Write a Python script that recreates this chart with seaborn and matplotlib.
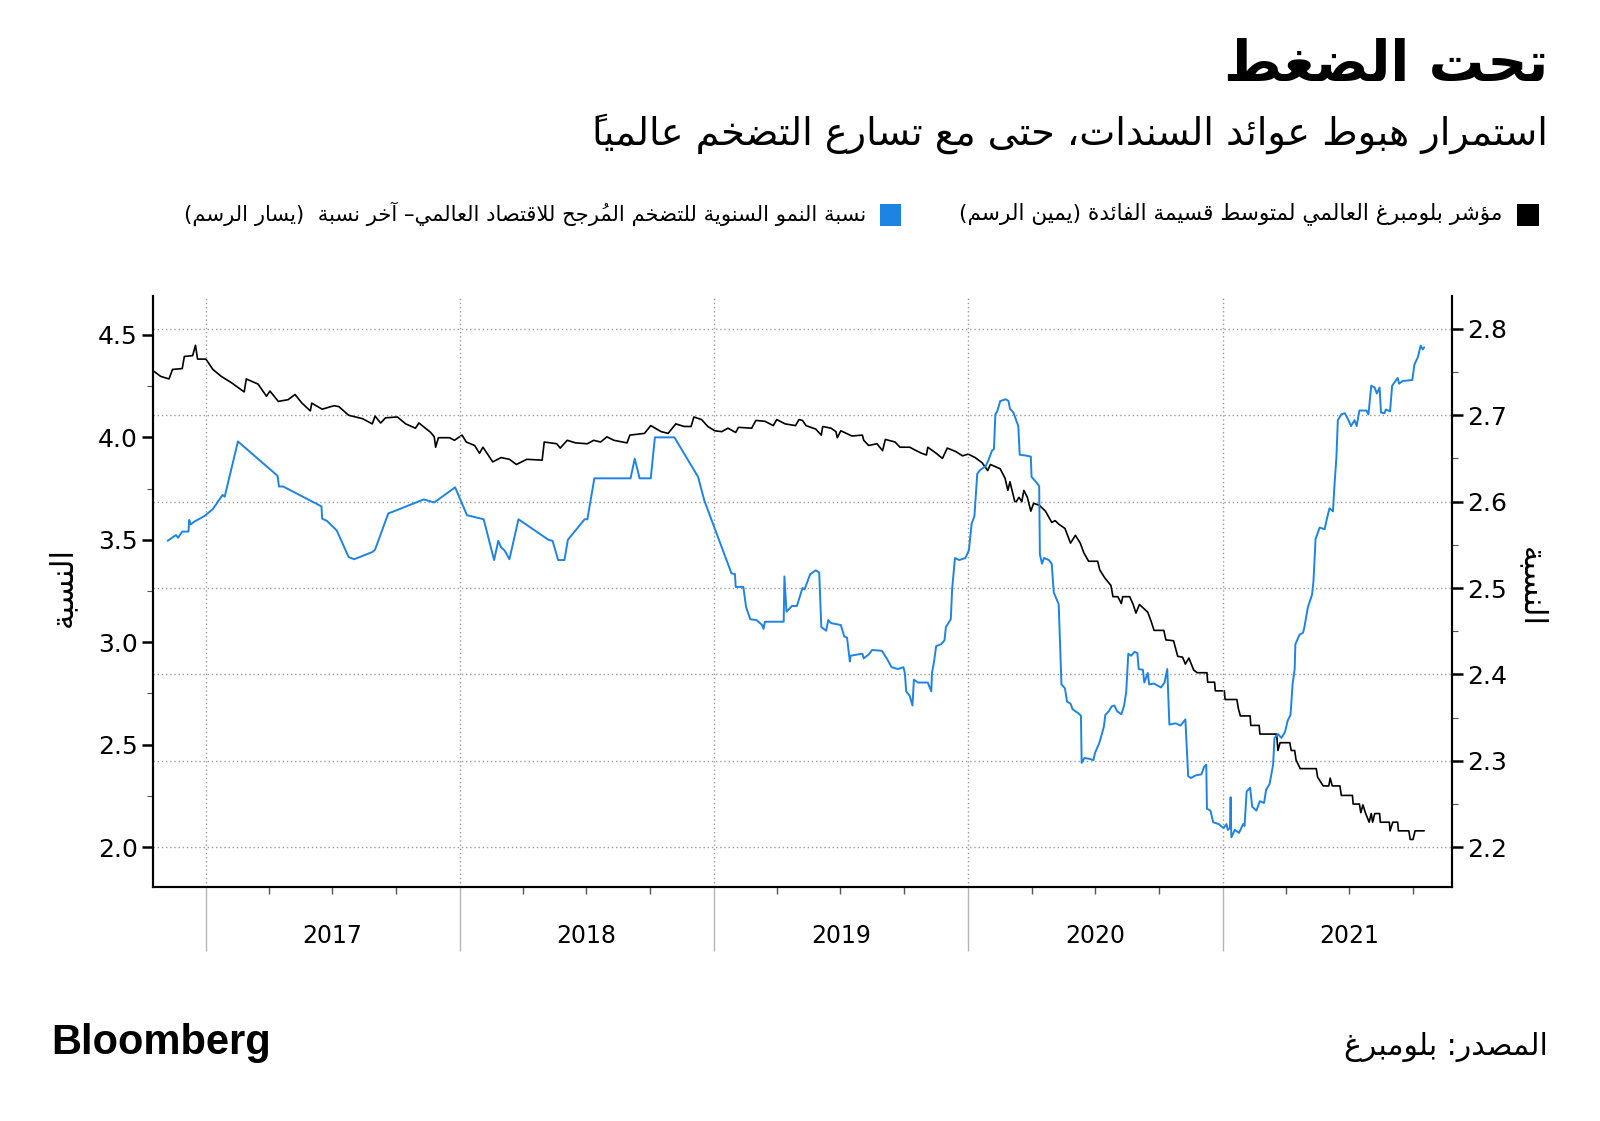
import numpy as np
import pandas as pd
import matplotlib
matplotlib.use("Agg")
import matplotlib.pyplot as plt
import matplotlib.dates as mdates
from matplotlib.patches import Rectangle
from matplotlib.ticker import MultipleLocator, FormatStrFormatter
import seaborn as sns

# ---------------- data ----------------
# day offsets are counted from 2017-01-01
ORIGIN = "2017-01-01"

index_days = [-75, -65, -53, -48, -34, -31, -19, -15, -12, 0, 10, 22, 36, 55, 58, 75, 87, 92, 104, 118,
              128, 138, 150, 152, 167, 184, 191, 205, 225, 239,
              243, 251, 258, 275, 287, 301, 306, 323, 328, 330, 334, 350, 357, 368, 374, 386, 393, 398, 412, 424,
              436, 446, 461, 483, 486, 504, 509, 519, 531, 548,
              557, 567, 576, 586, 605, 609, 630, 639, 654, 664, 675, 687, 697, 701, 712, 721, 731, 741, 750, 761,
              765, 784, 790, 803, 815, 820, 832, 847, 852, 857,
              862, 876, 884, 886, 898, 905, 907, 912, 928, 943, 945, 952, 964, 972, 976, 990, 997, 1011, 1018, 1028,
              1035, 1037, 1049, 1058, 1065, 1077, 1087, 1095, 1105, 1115, 1123, 1127, 1141, 1148, 1152, 1155, 1162,
              1164, 1168, 1172, 1175, 1180, 1185, 1189, 1197, 1206, 1215, 1220, 1225, 1234, 1242, 1249, 1256, 1261,
              1268, 1281, 1284, 1291, 1300, 1303, 1310, 1315, 1317, 1327, 1332, 1336, 1341, 1353, 1358, 1362, 1376,
              1379, 1390, 1396, 1403, 1407, 1412, 1419, 1424, 1438, 1439, 1449, 1450, 1463, 1464,
              1481, 1483, 1486, 1500, 1501, 1513, 1514, 1538, 1540, 1543, 1557, 1559, 1564, 1566, 1572, 1595, 1597,
              1605, 1613, 1615, 1618, 1629, 1631, 1647, 1648, 1657, 1659, 1662, 1666, 1671, 1674, 1676, 1679, 1686,
              1687, 1700, 1701, 1705, 1712, 1713, 1728, 1730, 1734, 1737, 1750]
index_vals = [2.751, 2.745, 2.742, 2.753, 2.754, 2.768, 2.769, 2.781, 2.765, 2.765, 2.753, 2.745, 2.738, 2.727,
              2.742, 2.736, 2.722, 2.728, 2.716, 2.718, 2.724, 2.714, 2.705, 2.714, 2.707, 2.711, 2.710, 2.700,
              2.696, 2.690,
              2.699, 2.691, 2.697, 2.698, 2.690, 2.685, 2.691, 2.680, 2.675, 2.663, 2.674, 2.674, 2.671, 2.677,
              2.669, 2.665, 2.656, 2.663, 2.646, 2.651, 2.649, 2.643, 2.649, 2.648, 2.669, 2.667, 2.662, 2.671,
              2.668, 2.667,
              2.671, 2.669, 2.675, 2.671, 2.668, 2.677, 2.679, 2.688, 2.681, 2.679, 2.690, 2.687, 2.687, 2.698,
              2.695, 2.687, 2.682, 2.681, 2.685, 2.680, 2.686, 2.685, 2.694, 2.693, 2.688, 2.695, 2.690, 2.688,
              2.695, 2.694,
              2.688, 2.684, 2.677, 2.687, 2.685, 2.681, 2.674, 2.682, 2.676, 2.677, 2.671, 2.665, 2.667, 2.659,
              2.672, 2.669, 2.663, 2.663, 2.660, 2.656, 2.654, 2.663, 2.656, 2.650, 2.662, 2.658, 2.653, 2.655,
              2.651, 2.645, 2.636, 2.643, 2.638, 2.627, 2.613, 2.623, 2.600,
              2.600, 2.605, 2.600, 2.613, 2.605, 2.589, 2.598, 2.596, 2.589, 2.576, 2.578, 2.574, 2.569, 2.552,
              2.561, 2.552, 2.541, 2.531, 2.531, 2.521, 2.512, 2.503, 2.490, 2.490, 2.482, 2.490, 2.490, 2.481,
              2.471, 2.481, 2.472, 2.461, 2.451, 2.451, 2.440, 2.439, 2.421, 2.420, 2.412, 2.419, 2.405, 2.402,
              2.402, 2.391, 2.391, 2.381, 2.381, 2.371,
              2.371, 2.361, 2.352, 2.352, 2.341, 2.341, 2.331, 2.331, 2.312, 2.321, 2.321, 2.312, 2.312, 2.301,
              2.291, 2.291, 2.281, 2.271, 2.271, 2.280, 2.271, 2.271, 2.260, 2.260, 2.250, 2.250, 2.240, 2.249,
              2.239, 2.229, 2.239, 2.229, 2.239, 2.239, 2.229, 2.229, 2.219, 2.229, 2.229, 2.219, 2.219, 2.209,
              2.209, 2.219, 2.219]

inflation_days = [-55, -43, -40, -34, -25, -24, -22, -17, -2, 10, 24, 27, 46, 103, 105, 111, 166, 167, 174, 188,
                  205, 213, 239,
                  243, 262, 267, 313, 328, 358, 375, 399, 414, 420, 424, 429, 436, 449, 492, 498, 506, 515, 520,
                  544, 548,
                  558, 610, 616, 623, 639, 645, 673, 707, 716, 755, 760, 761, 772, 776, 782, 791, 799, 801, 803,
                  830, 831, 834, 842, 849, 857,
                  860, 868, 876, 881, 884, 891, 894, 898, 912, 917, 921, 925, 926, 943, 945, 952, 957, 971, 978,
                  985, 994, 1002, 1004, 1006, 1011, 1015, 1017, 1023, 1037, 1042, 1043, 1046, 1049, 1056, 1061,
                  1063, 1070, 1072, 1076, 1082, 1091, 1096, 1100, 1104, 1108, 1112, 1120, 1124, 1129, 1132, 1134,
                  1137, 1141, 1149, 1153, 1155, 1160,
                  1167, 1169, 1178, 1185, 1186, 1192, 1197, 1198, 1201, 1204, 1211, 1215, 1218, 1223, 1225, 1229,
                  1234, 1237, 1242, 1245, 1249, 1253, 1257, 1258, 1262, 1270, 1275, 1277, 1283, 1287, 1290, 1292,
                  1297, 1301, 1305, 1309, 1315, 1319, 1322, 1325, 1329, 1334, 1338, 1340, 1346, 1348, 1353, 1355,
                  1362, 1372, 1377, 1381, 1384, 1393, 1400, 1407, 1411, 1415, 1422, 1430, 1434, 1437, 1438, 1443,
                  1447, 1455, 1458, 1462, 1466, 1468,
                  1471, 1472, 1473, 1478, 1484, 1490, 1492, 1495, 1500, 1503, 1509, 1514, 1520, 1523, 1528, 1533,
                  1535, 1540, 1545, 1550, 1554, 1558, 1561, 1564, 1565, 1571, 1576, 1578, 1583, 1589, 1591, 1594,
                  1600, 1607, 1610, 1614, 1619, 1621, 1624, 1626, 1631, 1636, 1640, 1645, 1650, 1653, 1657, 1667,
                  1670, 1674, 1679, 1682, 1686, 1688, 1693, 1695, 1701, 1704, 1712, 1714, 1719, 1733, 1736, 1741,
                  1745, 1748, 1750]
inflation_vals = [3.495, 3.523, 3.510, 3.540, 3.540, 3.597, 3.575, 3.588, 3.616, 3.650, 3.719, 3.710, 3.980,
                  3.812, 3.760, 3.760, 3.663, 3.603, 3.592, 3.545, 3.416, 3.405, 3.440,
                  3.452, 3.629, 3.635, 3.697, 3.682, 3.756, 3.620, 3.600, 3.401, 3.495, 3.463, 3.448, 3.405,
                  3.600, 3.500, 3.495, 3.401, 3.401, 3.500, 3.600, 3.600,
                  3.800, 3.800, 3.896, 3.800, 3.800, 4.000, 4.000, 3.807, 3.691, 3.336, 3.332, 3.270, 3.270,
                  3.171, 3.112, 3.108, 3.084, 3.065, 3.100, 3.100, 3.321, 3.149, 3.177, 3.177, 3.265,
                  3.258, 3.332, 3.351, 3.340, 3.074, 3.056, 3.108, 3.093, 3.084, 3.028, 3.022, 2.906, 2.934,
                  2.944, 2.921, 2.940, 2.962, 2.958, 2.921, 2.878, 2.869, 2.878, 2.850, 2.760, 2.738, 2.691,
                  2.817, 2.803, 2.803, 2.760, 2.850, 2.906, 2.981, 2.990, 3.009, 3.074, 3.112, 3.261, 3.411,
                  3.401, 3.411, 3.448, 3.579, 3.616, 3.822, 3.840, 3.859, 3.887, 3.934, 3.943, 4.111, 4.130,
                  4.177, 4.186, 4.177, 4.140, 4.121,
                  4.055, 3.915, 3.911, 3.906, 3.807, 3.784, 3.762, 3.429, 3.383, 3.411, 3.401, 3.383, 3.242,
                  3.201, 3.186, 2.794, 2.775, 2.710, 2.700, 2.673, 2.663, 2.654, 2.641, 2.411, 2.435, 2.430,
                  2.424, 2.458, 2.505, 2.551, 2.589, 2.645, 2.663, 2.686, 2.691, 2.663, 2.648, 2.691, 2.757,
                  2.944, 2.934, 2.953, 2.947, 2.869, 2.865, 2.803, 2.850, 2.794, 2.798, 2.779, 2.803, 2.869,
                  2.598, 2.604, 2.593, 2.623, 2.346, 2.337, 2.350, 2.355, 2.393, 2.402, 2.187, 2.178, 2.121,
                  2.112, 2.103, 2.093, 2.112, 2.084,
                  2.093, 2.243, 2.047, 2.084, 2.069, 2.112, 2.103, 2.271, 2.290, 2.197, 2.178, 2.224, 2.215,
                  2.280, 2.308, 2.402, 2.533, 2.551, 2.533, 2.561, 2.617, 2.645, 2.794, 2.869, 2.990, 3.037,
                  3.046, 3.074, 3.171, 3.233, 3.298, 3.504, 3.560, 3.551, 3.598, 3.654, 3.639, 3.756, 3.906,
                  4.084, 4.112, 4.118, 4.093, 4.055, 4.084, 4.055, 4.131, 4.131, 4.112, 4.252, 4.243, 4.214,
                  4.243, 4.121, 4.118, 4.136, 4.127, 4.252, 4.290, 4.262, 4.275, 4.280, 4.355, 4.392, 4.448,
                  4.429, 4.439]

years = [2017, 2018, 2019, 2020, 2021]
left_ticks = [2.0, 2.5, 3.0, 3.5, 4.0, 4.5]
right_ticks = [2.2, 2.3, 2.4, 2.5, 2.6, 2.7, 2.8]

title_text = "تحت الضغط"
subtitle_text = "استمرار هبوط عوائد السندات، حتى مع تسارع التضخم عالمياً"
legend_black = "مؤشر بلومبرغ العالمي لمتوسط قسيمة الفائدة (يمين الرسم)"
legend_blue = "نسبة النمو السنوية للتضخم المُرجح للاقتصاد العالمي– آخر نسبة  (يسار الرسم)"
ylabel_text = "النسبة"
source_text = "المصدر: بلومبرغ"

# ---------------- minimal Arabic shaping (presentation forms + RTL order) ----------------
DUAL = {0x0626: 0xFE89, 0x0628: 0xFE8F, 0x062A: 0xFE95, 0x062B: 0xFE99, 0x062C: 0xFE9D, 0x062D: 0xFEA1,
        0x062E: 0xFEA5, 0x0633: 0xFEB1, 0x0634: 0xFEB5, 0x0635: 0xFEB9, 0x0636: 0xFEBD, 0x0637: 0xFEC1,
        0x0638: 0xFEC5, 0x0639: 0xFEC9, 0x063A: 0xFECD, 0x0641: 0xFED1, 0x0642: 0xFED5, 0x0643: 0xFED9,
        0x0644: 0xFEDD, 0x0645: 0xFEE1, 0x0646: 0xFEE5, 0x0647: 0xFEE9, 0x064A: 0xFEF1}
RIGHT = {0x0622: 0xFE81, 0x0623: 0xFE83, 0x0624: 0xFE85, 0x0625: 0xFE87, 0x0627: 0xFE8D, 0x0629: 0xFE93,
         0x062F: 0xFEA9, 0x0630: 0xFEAB, 0x0631: 0xFEAD, 0x0632: 0xFEAF, 0x0648: 0xFEED, 0x0649: 0xFEEF}
LAMALEF = {0x0622: 0xFEF5, 0x0623: 0xFEF7, 0x0625: 0xFEF9, 0x0627: 0xFEFB}
MIRROR = {'(': ')', ')': '(', '[': ']', ']': '['}


def is_mark(ch):
    return 0x064B <= ord(ch) <= 0x0652


def shape(s):
    toks = []
    i = 0
    while i < len(s):
        c = s[i]
        o = ord(c)
        if is_mark(c):
            if toks:
                toks[-1][1] += c
            i += 1
            continue
        if o == 0x0644:
            j = i + 1
            marks = ''
            while j < len(s) and is_mark(s[j]):
                marks += s[j]
                j += 1
            if j < len(s) and ord(s[j]) in LAMALEF:
                toks.append(['LA', marks, 'R', LAMALEF[ord(s[j])]])
                i = j + 1
                continue
        if o in DUAL:
            toks.append([c, '', 'D', DUAL[o]])
        elif o in RIGHT:
            toks.append([c, '', 'R', RIGHT[o]])
        elif o == 0x0621:
            toks.append([c, '', 'U', 0xFE80])
        elif o == 0x0640:
            toks.append([c, '', 'T', None])
        else:
            toks.append([c, '', 'U', None])
        i += 1
    out = []
    n = len(toks)
    for k, (c, marks, jt, base) in enumerate(toks):
        if base is None:
            g = c
        else:
            prev_j = k > 0 and toks[k - 1][2] in ('D', 'T')
            next_j = k < n - 1 and toks[k + 1][2] in ('D', 'R', 'T')
            jp = prev_j and jt in ('D', 'R')
            jn = next_j and jt == 'D'
            if jt == 'D':
                g = chr(base + (3 if (jp and jn) else 1 if jp else 2 if jn else 0))
            elif jt == 'R':
                g = chr(base + (1 if jp else 0))
            else:
                g = chr(base)
        g = MIRROR.get(g, g)
        # zero-advance marks are placed before their base in visual (left-to-right) order
        out.append(g + marks)
    vis = []
    for item in reversed(out):
        base_g, mk = item[0], item[1:]
        vis.append(mk + base_g)
    return ''.join(vis)


# ---------------- figure ----------------
sns.set_theme(style="white")
plt.rcParams['font.family'] = ['DejaVu Sans']

BLUE = "#1e84e4"
W, H = 1600, 1121
fig = plt.figure(figsize=(W / 100, H / 100), dpi=100)
fig.patch.set_facecolor("white")

ax_l, ax_r, ax_t, ax_b = 153, 1452, 296, 887
ax = fig.add_axes([ax_l / W, 1 - ax_b / H, (ax_r - ax_l) / W, (ax_b - ax_t) / H])
ax2 = ax.twinx()

origin = pd.Timestamp(ORIGIN)
df_idx = pd.DataFrame({"date": origin + pd.to_timedelta(index_days, unit="D"), "value": index_vals})
df_inf = pd.DataFrame({"date": origin + pd.to_timedelta(inflation_days, unit="D"), "value": inflation_vals})

sns.lineplot(data=df_idx, x="date", y="value", ax=ax2, color="black", linewidth=1.2,
             sort=False, estimator=None)
sns.lineplot(data=df_inf, x="date", y="value", ax=ax, color=BLUE, linewidth=1.4,
             sort=False, estimator=None)

# blue axes on top, transparent background
ax.set_zorder(ax2.get_zorder() + 1)
ax.patch.set_visible(False)

ax.set_xlim(pd.Timestamp("2016-10-17"), pd.Timestamp("2021-11-26"))
ax.set_ylim(1.805, 4.69)
ax2.set_ylim(2.154, 2.838)

for a in (ax, ax2):
    a.set_xlabel("")
    a.set_ylabel("")

# y ticks
ax.set_yticks(left_ticks)
ax.yaxis.set_minor_locator(MultipleLocator(0.25))
ax.yaxis.set_major_formatter(FormatStrFormatter("%.1f"))
ax2.set_yticks(right_ticks)
ax2.yaxis.set_minor_locator(MultipleLocator(0.05))
ax2.yaxis.set_major_formatter(FormatStrFormatter("%.1f"))

ax.tick_params(axis="y", which="both", left=True, right=False)
ax2.tick_params(axis="y", which="both", right=True, left=False)
ax.tick_params(axis="y", which="major", direction="out", length=8, width=1.8, color="black",
               labelsize=18, pad=3, labelcolor="black")
ax.tick_params(axis="y", which="minor", direction="out", length=4, width=0.8, color="#555555")
ax2.tick_params(axis="y", which="major", direction="out", length=8, width=1.8, color="black",
                labelsize=18, pad=3, labelcolor="black")
ax2.tick_params(axis="y", which="minor", direction="out", length=4, width=0.8, color="#555555")

# x ticks: year separators + quarter ticks
ax.xaxis.set_major_locator(mdates.YearLocator())
ax.xaxis.set_minor_locator(mdates.MonthLocator(bymonth=[4, 7, 10]))
ax.xaxis.set_major_formatter(plt.NullFormatter())
ax.tick_params(axis="x", which="both", bottom=True, top=False)
ax.tick_params(axis="x", which="major", direction="out", length=46, width=1.0, color="#b5b5b5")
ax.tick_params(axis="x", which="minor", direction="out", length=5, width=1.0, color="#555555")
ax2.tick_params(axis="x", which="both", bottom=False, top=False, labelbottom=False)

# grid
ax.grid(axis="x", which="major", linestyle=(0, (1, 2)), color="#9a9a9a", linewidth=1.0)
ax.grid(axis="y", visible=False)
ax2.grid(axis="y", which="major", linestyle=(0, (1, 2)), color="#9a9a9a", linewidth=1.0)
ax2.grid(axis="x", visible=False)

for a in (ax, ax2):
    a.spines["top"].set_visible(False)
    for side in ("left", "right", "bottom"):
        a.spines[side].set_color("black")
        a.spines[side].set_linewidth(1.5)

# year labels centred in each year
for y in years:
    mid = pd.Timestamp(f"{y}-07-02")
    ax.text(mid, -0.083, str(y), transform=ax.get_xaxis_transform(), ha="center", va="center",
            fontsize=17, color="black")

# axis titles
fig.text(63 / W, 1 - 587 / H, shape(ylabel_text), rotation=90, ha="center", va="center",
         fontsize=22, color="black")
fig.text(1531 / W, 1 - 587 / H, shape(ylabel_text), rotation=270, ha="center", va="center",
         fontsize=22, color="black")

# title & subtitle
fig.text(1548 / W, 1 - 66 / H, shape(title_text), ha="right", va="center", fontsize=40,
         fontweight="bold", color="black")
fig.text(1548 / W, 1 - 134 / H, shape(subtitle_text), ha="right", va="center", fontsize=27.5,
         color="black")

# legend (right-to-left)
fig.patches.append(Rectangle((1517 / W, 1 - 226 / H), 22 / W, 22 / H, transform=fig.transFigure,
                             facecolor="black", edgecolor="none"))
fig.text(1502 / W, 1 - 214 / H, shape(legend_black), ha="right", va="center", fontsize=15.6, color="black")
fig.patches.append(Rectangle((880 / W, 1 - 226 / H), 21 / W, 22 / H, transform=fig.transFigure,
                             facecolor=BLUE, edgecolor="none"))
fig.text(866 / W, 1 - 214 / H, shape(legend_blue), ha="right", va="center", fontsize=15.2, color="black")

# footer
fig.text(51 / W, 1 - 1043 / H, "Bloomberg", ha="left", va="center", fontsize=30, fontweight="bold",
         family="Liberation Sans", color="black")
fig.text(1548 / W, 1 - 1047 / H, shape(source_text), ha="right", va="center", fontsize=21.5, color="black")

fig.savefig("out.png", dpi=100, facecolor="white")
